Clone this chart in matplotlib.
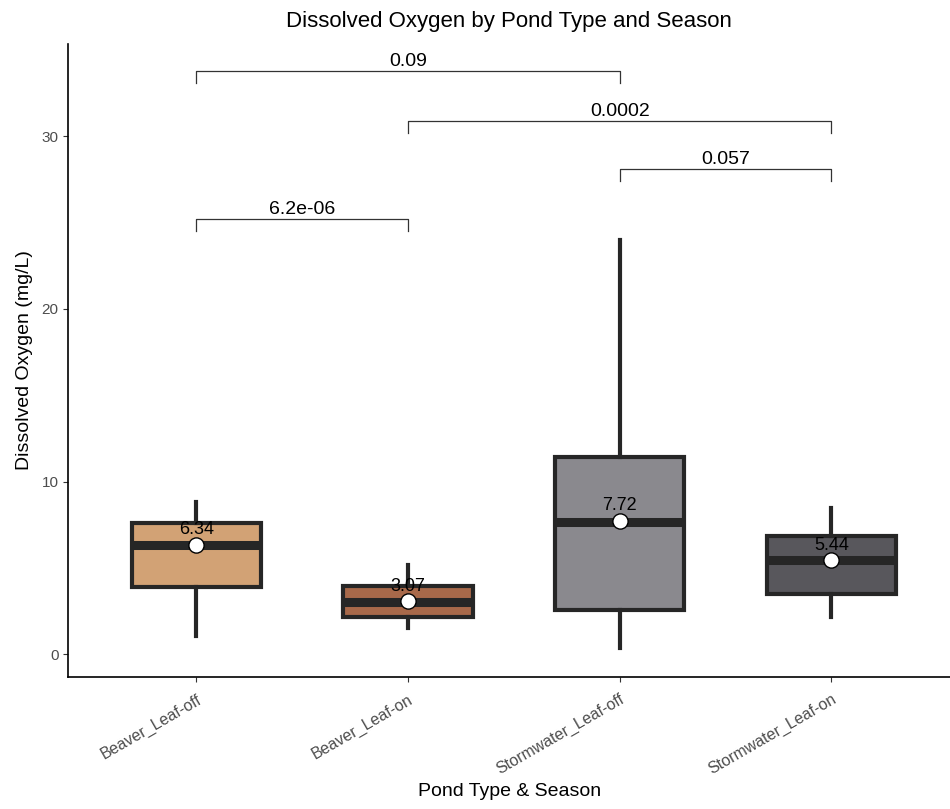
import matplotlib
matplotlib.use("Agg")
import matplotlib.pyplot as plt

plt.rcParams["font.family"] = ["Liberation Sans", "DejaVu Sans"]

# box statistics
groups = ["Beaver_Leaf-off", "Beaver_Leaf-on", "Stormwater_Leaf-off", "Stormwater_Leaf-on"]
whislo = [1.05, 1.5, 0.35, 2.15]
q1 = [3.9, 2.15, 2.55, 3.48]
med = [6.3, 3.02, 7.68, 5.45]
q3 = [7.6, 3.95, 11.42, 6.85]
whishi = [8.8, 5.15, 24.0, 8.47]
means = [6.34, 3.07, 7.72, 5.44]
colors = ["#D2A275", "#A8694A", "#8A898E", "#58575C"]

# pairwise comparisons: (group a, group b, y level, label)
comp_a = [1, 1, 2, 3]
comp_b = [2, 3, 4, 4]
comp_y = [25.2, 33.8, 30.9, 28.1]
comp_p = ["6.2e-06", "0.09", "0.0002", "0.057"]

fig, ax = plt.subplots(figsize=(9.5, 8.09), dpi=100)
fig.subplots_adjust(left=0.072, right=1.0, top=0.946, bottom=0.163)

stats = []
for i, g in enumerate(groups):
    stats.append(dict(label=g, whislo=whislo[i], q1=q1[i], med=med[i],
                      q3=q3[i], whishi=whishi[i], fliers=[]))

edge = "#262626"
bp = ax.bxp(stats, positions=range(1, 5), widths=0.61, patch_artist=True,
            showcaps=False, showfliers=False,
            boxprops=dict(linewidth=3, edgecolor=edge),
            whiskerprops=dict(linewidth=3, color=edge),
            medianprops=dict(linewidth=6.5, color=edge, solid_capstyle="butt"))
for patch, c in zip(bp["boxes"], colors):
    patch.set_facecolor(c)

x = list(range(1, 5))
ax.scatter(x, means, s=120, color="white", edgecolor="black", linewidth=1, zorder=5)
for xi, m in zip(x, means):
    ax.text(xi, m + 0.38, f"{m:.2f}", ha="center", va="bottom", fontsize=13, zorder=6)

for a, b, yv, p in zip(comp_a, comp_b, comp_y, comp_p):
    ax.plot([a, a, b, b], [yv - 0.7, yv, yv, yv - 0.7], color="#333333", lw=0.9)
    ax.text((a + b) / 2, yv + 0.05, p, ha="center", va="bottom", fontsize=14)

ax.set_xlim(0.396, 4.56)
ax.set_ylim(-1.33, 35.36)
ax.set_yticks([0, 10, 20, 30])
ax.set_xticks(x)
ax.set_xticklabels(groups, rotation=30, ha="right", rotation_mode="anchor",
                   fontsize=11.5, color="#4D4D4D")
ax.tick_params(axis="y", labelsize=11, labelcolor="#4D4D4D", color="#333333")
ax.tick_params(axis="x", color="#333333", pad=7)
for s in ["top", "right"]:
    ax.spines[s].set_visible(False)
for s in ["left", "bottom"]:
    ax.spines[s].set_linewidth(1.2)

ax.set_xlabel("Pond Type & Season", fontsize=14)
ax.set_ylabel("Dissolved Oxygen (mg/L)", fontsize=14, labelpad=6)
ax.set_title("Dissolved Oxygen by Pond Type and Season", fontsize=16, pad=12)

fig.savefig("out.png", dpi=100)
